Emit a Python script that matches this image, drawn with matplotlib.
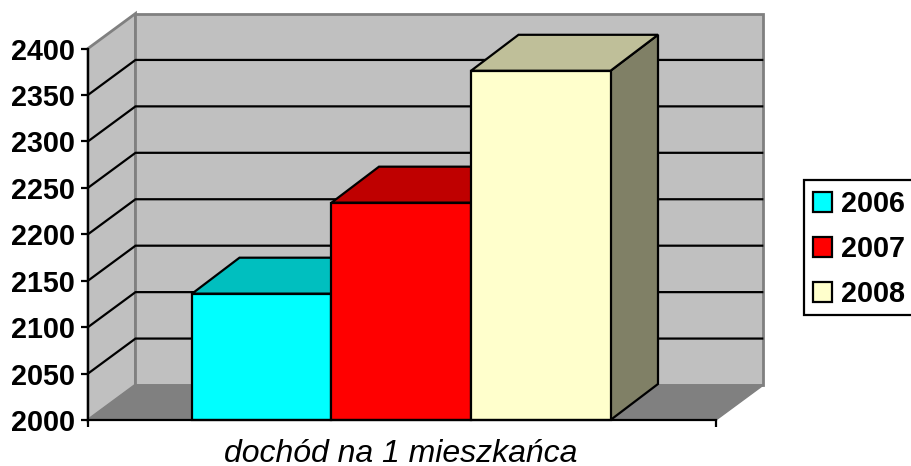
import matplotlib
matplotlib.use("Agg")
import matplotlib.pyplot as plt
from matplotlib.patches import Patch, Polygon, Rectangle

plt.rcParams["font.family"] = "Liberation Sans"

# Data
years = ["2006", "2007", "2008"]
values = [2136, 2234, 2376]
y_ticks = [2000, 2050, 2100, 2150, 2200, 2250, 2300, 2350, 2400]
x_label = "dochód na 1 mieszkańca"

# Colours
front_colors = ["#00FFFF", "#FF0000", "#FFFFCC"]
top_colors = ["#00BFBF", "#BF0000", "#BFBF99"]
side_colors = ["#008080", "#800000", "#808066"]
WALL = "#C0C0C0"
FLOOR = "#808080"

W, H = 912, 466
fig = plt.figure(figsize=(W / 100, H / 100), dpi=100)
ax = fig.add_axes([88 / W, 1 - 420 / H, 628 / W, 371.5 / H])
ax.set_xlim(0, 1)
ax.set_ylim(2000, 2400)

# 3D depth in data units
DX = 47.5 / 628
DY = 35 * 400 / 371.5
BAR_DY = 36 * 400 / 371.5
LW = 1.6


def face(points, color, edge="black", z=2, lw=LW):
    ax.add_patch(Polygon(points, closed=True, facecolor=color, edgecolor=edge,
                         linewidth=lw, zorder=z, clip_on=False, joinstyle="miter"))


# Walls and floor
face([(0, 2000), (DX, 2000 + DY), (DX, 2400 + DY), (0, 2400)], WALL, FLOOR, 1, 2)
face([(DX, 2000 + DY), (1 + DX, 2000 + DY), (1 + DX, 2400 + DY), (DX, 2400 + DY)], WALL, FLOOR, 1, 2)
face([(0, 2000), (1, 2000), (1 + DX, 2000 + DY), (DX, 2000 + DY)], FLOOR, FLOOR, 1, 1)

# Gridlines on the walls
for v in y_ticks[1:-1]:
    ax.plot([0, DX, 1 + DX - 0.002], [v, v + DY, v + DY], color="black", linewidth=LW,
            zorder=1.5, clip_on=False, solid_joinstyle="miter")

# Bars, left to right so later ones cover earlier ones
bar_w = 139.5 / 628
bar_start = 104 / 628
for i, v in enumerate(values):
    x0 = bar_start + i * bar_w
    x1 = x0 + bar_w
    z = 3 + i
    face([(x1, 2000), (x1 + DX, 2000 + BAR_DY), (x1 + DX, v + BAR_DY), (x1, v)], side_colors[i], z=z)
    face([(x0, v), (x1, v), (x1 + DX, v + BAR_DY), (x0 + DX, v + BAR_DY)], top_colors[i], z=z)
    face([(x0, 2000), (x1, 2000), (x1, v), (x0, v)], front_colors[i], z=z)

# Axes
for s in ["top", "right"]:
    ax.spines[s].set_visible(False)
for s in ["left", "bottom"]:
    ax.spines[s].set_linewidth(LW)
    ax.spines[s].set_zorder(10)
ax.patch.set_visible(False)
ax.set_yticks(y_ticks)
ax.set_yticklabels([str(t) for t in y_ticks], fontsize=20.7, fontweight="bold")
ax.tick_params(axis="y", length=5, width=LW, pad=4.5)
ax.set_xticks([0, 1])
ax.set_xticklabels(["", ""])
ax.tick_params(axis="x", length=5, width=LW)
fig.text(400.5 / W, 1 - 462.5 / H, x_label, fontsize=23, style="italic", ha="center", va="baseline")

# Legend box runs off the right edge of the picture
fig.add_artist(Rectangle((804.5 / W, 1 - 315 / H), 120 / W, 135 / H, transform=fig.transFigure,
                         facecolor="white", edgecolor="black", linewidth=LW))
handles = [Patch(facecolor=c, edgecolor="black", linewidth=LW) for c in front_colors]
leg = fig.legend(handles, years, loc="upper left", bbox_to_anchor=(804 / W, 1 - 181 / H),
                 bbox_transform=fig.transFigure, borderaxespad=0, borderpad=0.3,
                 prop={"size": 20.7, "weight": "bold"}, handlelength=0.69, handleheight=0.69,
                 handletextpad=0.28, labelspacing=0.6, frameon=False)

fig.savefig("out.png", dpi=100)
